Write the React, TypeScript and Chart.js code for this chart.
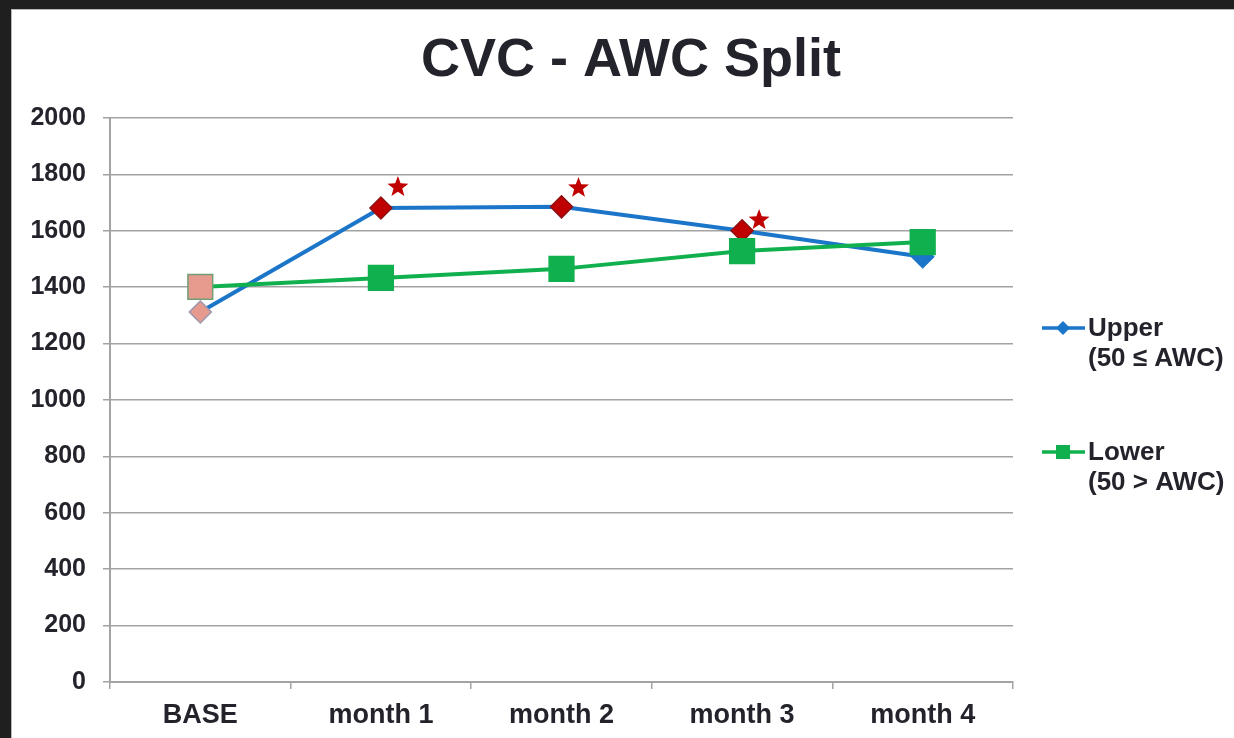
import React, { useEffect, useRef } from 'react';
import { Chart, registerables } from 'chart.js';

Chart.register(...registerables);

const chartTitle = 'CVC - AWC Split';
const categories = ['BASE', 'month 1', 'month 2', 'month 3', 'month 4'];
const upperValues = [1312, 1681, 1685, 1600, 1508];
const lowerValues = [1401, 1433, 1465, 1528, 1560];
const significanceStars = [null, 1755, 1752, 1638, null];
const upperLegend = ['Upper', '(50 ≤ AWC)'];
const lowerLegend = ['Lower', '(50 > AWC)'];
const yMin = 0;
const yMax = 2000;
const yStep = 200;

const FONT = '"Liberation Sans", Arial, sans-serif';
const TEXT = '#23232b';
const BLUE = '#1B75C8';
const GREEN = '#10B04E';
const DARKRED = '#C00000';
const SALMON = '#E79A8E';
const GRID = '#A3A3A3';

const upperPointFill = [SALMON, DARKRED, DARKRED, DARKRED, BLUE];
const upperPointBorder = ['#9898AE', '#8E1010', '#8E1010', '#8E1010', BLUE];
const lowerPointFill = [SALMON, GREEN, GREEN, GREEN, GREEN];
const lowerPointBorder = ['#6F9F72', GREEN, GREEN, GREEN, GREEN];

function starPath(ctx: CanvasRenderingContext2D, cx: number, cy: number, outer: number, inner: number) {
  ctx.beginPath();
  for (let i = 0; i < 10; i++) {
    const r = i % 2 === 0 ? outer : inner;
    const a = -Math.PI / 2 + (i * Math.PI) / 5;
    const x = cx + r * Math.cos(a);
    const y = cy + r * Math.sin(a);
    if (i === 0) ctx.moveTo(x, y);
    else ctx.lineTo(x, y);
  }
  ctx.closePath();
}

const decorPlugin = {
  id: 'decor',
  afterDatasetsDraw(chart: any) {
    const ctx: CanvasRenderingContext2D = chart.ctx;
    const meta = chart.getDatasetMeta(2);
    ctx.save();
    meta.data.forEach((p: any, i: number) => {
      if (significanceStars[i] == null) return;
      starPath(ctx, p.x + 17, p.y, 11, 4.6);
      ctx.fillStyle = DARKRED;
      ctx.fill();
    });
    ctx.restore();
  },
  afterDraw(chart: any) {
    const ctx: CanvasRenderingContext2D = chart.ctx;
    ctx.save();
    ctx.font = `bold 54px ${FONT}`;
    ctx.fillStyle = TEXT;
    ctx.textAlign = 'center';
    ctx.textBaseline = 'alphabetic';
    ctx.fillText(chartTitle, 620, 67);

    const items = [
      { lines: upperLegend, color: BLUE, y: 319, kind: 'diamond' },
      { lines: lowerLegend, color: GREEN, y: 443, kind: 'square' },
    ];
    items.forEach((it) => {
      ctx.strokeStyle = it.color;
      ctx.lineWidth = 3.5;
      ctx.beginPath();
      ctx.moveTo(1031, it.y);
      ctx.lineTo(1074, it.y);
      ctx.stroke();
      ctx.fillStyle = it.color;
      const cx = 1052;
      if (it.kind === 'diamond') {
        ctx.beginPath();
        ctx.moveTo(cx - 7, it.y);
        ctx.lineTo(cx, it.y - 7);
        ctx.lineTo(cx + 7, it.y);
        ctx.lineTo(cx, it.y + 7);
        ctx.closePath();
        ctx.fill();
      } else {
        ctx.fillRect(cx - 7, it.y - 7, 14, 14);
      }
      ctx.font = `bold 26px ${FONT}`;
      ctx.fillStyle = TEXT;
      ctx.textAlign = 'left';
      ctx.textBaseline = 'middle';
      it.lines.forEach((t, k) => ctx.fillText(t, 1077, it.y + 1 + k * 30));
    });
    ctx.restore();
  },
};

export default function App() {
  const ref = useRef<HTMLCanvasElement | null>(null);
  useEffect(() => {
    if (!ref.current) return;
    const chart = new Chart(ref.current, {
      type: 'line',
      data: {
        labels: categories,
        datasets: [
          {
            label: upperLegend.join(' '),
            data: upperValues,
            borderColor: BLUE,
            borderWidth: 4,
            pointStyle: 'rectRot',
            pointRadius: 11,
            pointBackgroundColor: upperPointFill,
            pointBorderColor: upperPointBorder,
            pointBorderWidth: 1.5,
            order: 1,
          },
          {
            label: lowerLegend.join(' '),
            data: lowerValues,
            borderColor: GREEN,
            borderWidth: 4,
            pointStyle: 'rect',
            pointRadius: 17.5,
            pointBackgroundColor: lowerPointFill,
            pointBorderColor: lowerPointBorder,
            pointBorderWidth: 1.5,
            order: 0,
          },
          {
            label: 'significance',
            data: significanceStars as any,
            showLine: false,
            pointRadius: 0,
            borderWidth: 0,
            order: 2,
          },
        ],
      },
      options: {
        responsive: false,
        animation: false,
        events: [],
        layout: { padding: { top: 109, right: 221, left: 0, bottom: 0 } },
        plugins: {
          legend: { display: false },
          title: { display: false },
          tooltip: { enabled: false },
        },
        scales: {
          x: {
            type: 'category',
            offset: true,
            afterFit: (s: any) => { s.height = 56; },
            grid: {
              offset: true,
              drawOnChartArea: false,
              drawTicks: true,
              tickLength: 7,
              color: GRID,
              lineWidth: 1.5,
            },
            border: { display: true, color: GRID, width: 2 },
            ticks: {
              font: { family: FONT, size: 27, weight: 'bold' },
              color: TEXT,
              padding: 10,
              maxRotation: 0,
            },
          },
          y: {
            min: yMin,
            max: yMax,
            afterFit: (s: any) => { s.width = 99; },
            grid: { color: GRID, lineWidth: 1.5, tickLength: 7, drawTicks: true },
            border: { display: true, color: GRID, width: 2 },
            ticks: {
              stepSize: yStep,
              font: { family: FONT, size: 25, weight: 'bold' },
              color: TEXT,
              padding: 17,
              callback: (v: any) => String(v),
            },
          },
        },
      },
      plugins: [decorPlugin],
    });
    return () => chart.destroy();
  }, []);

  return (
    <div style={{ position: 'fixed', left: 0, top: 0, width: 1234, height: 738, background: '#1f1f1f', overflow: 'hidden' }}>
      <div
        style={{
          position: 'absolute',
          left: 11,
          top: 9,
          width: 1223,
          height: 729,
          background: '#ffffff',
          boxShadow: 'inset 1px 1px 0 #b8b8b8',
        }}
      >
        <canvas ref={ref} width={1223} height={729} style={{ display: 'block' }} />
      </div>
    </div>
  );
}
